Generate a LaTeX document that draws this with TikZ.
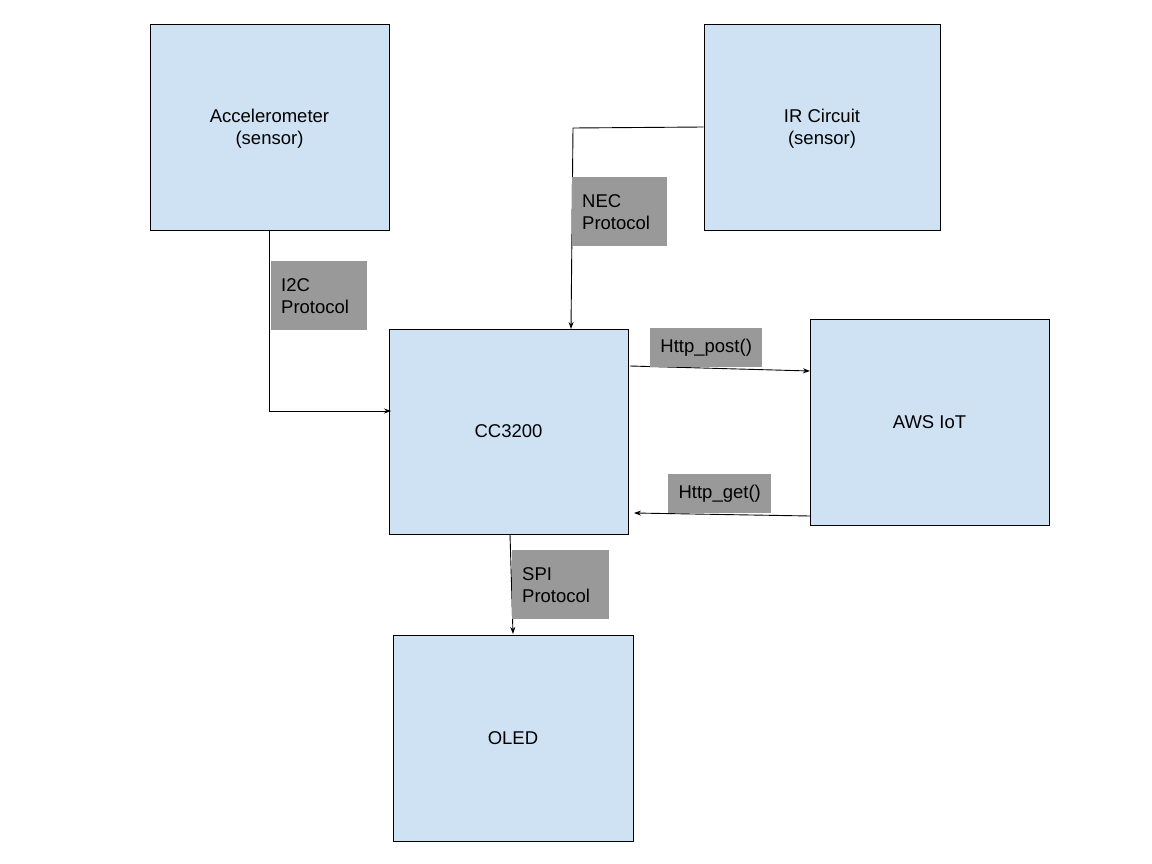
\documentclass[tikz,border=0pt]{standalone}
\usepackage{fontspec}
\setmainfont{Liberation Sans}
\usetikzlibrary{arrows.meta}
\definecolor{boxblue}{HTML}{CFE2F3}
\definecolor{labgray}{HTML}{999999}
\begin{document}
\begin{tikzpicture}[x=1pt,y=-1pt,
  blk/.style={draw=black, line width=0.9pt, fill=boxblue, inner sep=0pt, align=center,
    font=\fontsize{18.5}{22}\selectfont},
  lab/.style={fill=labgray, inner sep=0pt, font=\fontsize{18.5}{22}\selectfont},
  lab2/.style={lab, anchor=north west, minimum height=69pt, inner xsep=10pt, align=left},
  conn/.style={line width=0.9pt, -{Stealth[length=7pt,width=5pt]}}]
\useasboundingbox (0,0) rectangle (1152,864);
\fill[white] (0,0) rectangle (1152,864);
% blocks
\node[blk, minimum width=239pt, minimum height=206pt, text depth=0pt] (acc) at (269.5,127) {Accelerometer\\(sensor)};
\node[blk, minimum width=236pt, minimum height=206pt, text depth=0pt] (ir) at (822,127) {IR Circuit\\(sensor)};
\node[blk, minimum width=239pt, minimum height=205pt] (cc) at (508.5,431.5) {CC3200};
\node[blk, minimum width=239pt, minimum height=206pt] (aws) at (929.5,422) {AWS IoT};
\node[blk, minimum width=240pt, minimum height=206pt] (oled) at (513,738) {OLED};
% connector anchor points
\coordinate (ccin1) at (391,411);
\coordinate (irbend) at (573,128);
\coordinate (ccin2) at (571,329);
\coordinate (ccout1) at (630,366);
\coordinate (awsin1) at (810,371);
\coordinate (awsout1) at (810,516);
\coordinate (ccin3) at (634,513);
\coordinate (ccout2) at (510,534);
\coordinate (oledin) at (513,634);
% connectors
\draw[conn] (acc.south) |- (ccin1);
\draw[conn] (ir.west) -- (irbend) -- (ccin2);
\draw[conn] (ccout1) -- (awsin1);
\draw[conn] (awsout1) -- (ccin3);
\draw[conn] (ccout2) -- (oledin);
% labels
\node[lab2, text width=76pt] (i2c) at (271,261) {I2C\\Protocol};
\node[lab2, text width=75pt] (nec) at (572,177) {NEC\\Protocol};
\node[lab, anchor=north west, minimum width=112pt, minimum height=39pt] (post) at (650,328) {Http\_post()};
\node[lab, anchor=north west, minimum width=103pt, minimum height=39pt] (get) at (668,474) {Http\_get()};
\node[lab2, text width=77pt] (spi) at (512,550) {SPI\\Protocol};
\end{tikzpicture}
\end{document}
